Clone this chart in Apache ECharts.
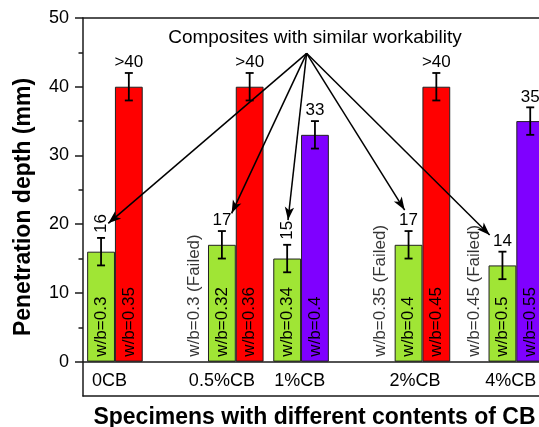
<!DOCTYPE html>
<html>
<head>
<meta charset="utf-8">
<script src="https://cdn.jsdelivr.net/npm/echarts@6/dist/echarts.min.js"></script>
<style>
  html, body { margin: 0; padding: 0; background: #fff; }
  #chart { width: 539px; height: 427px; }
</style>
</head>
<body>
<div id="chart"></div>
<script>
// ---------- data ----------
const categories = ['0CB', '0.5%CB', '1%CB', '2%CB', '4%CB'];
const categoryPos = [0.95, 5.0, 7.8, 11.95, 15.4];

const barPos = [0.65, 1.65, 5.0, 6.0, 7.35, 8.35, 11.72, 12.72, 15.1, 16.1];
const barMix = ['w/b=0.3', 'w/b=0.35', 'w/b=0.32', 'w/b=0.36', 'w/b=0.34', 'w/b=0.4', 'w/b=0.4', 'w/b=0.45', 'w/b=0.5', 'w/b=0.55'];
const barDepth = [16, 40, 17, 40, 15, 33, 17, 40, 14, 35];
const barError = [2, 2, 2, 2, 2, 2, 2, 2, 2, 2];
const barDepthText = ['16', '>40', '17', '>40', '15', '33', '17', '>40', '14', '35'];
const barGroup = ['similar', 'over', 'similar', 'over', 'similar', 'measured', 'similar', 'over', 'similar', 'measured'];

const failedPos = [4.0, 10.72, 14.1];
const failedMix = ['w/b=0.3 (Failed)', 'w/b=0.35 (Failed)', 'w/b=0.45 (Failed)'];

const noteText = 'Composites with similar workability';
const noteCenter = [8.35, 47.1];
const noteSource = [8.05, 44.86];
const noteTargets = [[0.91, 20.12], [5.35, 21.58], [7.38, 20.6], [11.58, 22.06], [14.64, 18.42]];

const yMajorTicks = [0, 10, 20, 30, 40, 50];
const yMinorTicks = [5, 15, 25, 35, 45];

const xTitle = 'Specimens with different contents of CB';
const yTitle = 'Penetration depth (mm)';

// ---------- styles ----------
const FONT = "'Liberation Sans', Arial, Helvetica, sans-serif";
const groupColor = { similar: '#A0E535', over: '#FF0000', measured: '#7F00FF' };
const rotatedValueLabels = new Set([0, 4]);

const chart = echarts.init(document.getElementById('chart'), null, { renderer: 'canvas' });

const barData = barPos.map((x, i) => ({
  value: [x, barDepth[i]],
  itemStyle: { color: groupColor[barGroup[i]] }
}));
const errData = barPos.map((x, i) => [x, barDepth[i], barError[i]]);
const failedData = failedPos.map((x, i) => ({ value: [x, 0], name: failedMix[i] }));

const axisLineStyle = { color: '#1a1a1a', width: 1.5 };

const option = {
  animation: false,
  backgroundColor: '#fff',
  grid: { left: 83, right: -44, top: 18, bottom: 31, containLabel: false, outerBoundsMode: 'none' },
  xAxis: [
    {
      type: 'value', min: 0, max: 18, position: 'bottom',
      axisLine: { show: true, onZero: false, lineStyle: axisLineStyle },
      axisTick: { show: false },
      splitLine: { show: false },
      axisLabel: {
        inside: true,
        customValues: categoryPos,
        formatter: function (v) {
          let best = 0, d = Infinity;
          categoryPos.forEach((p, i) => { if (Math.abs(p - v) < d) { d = Math.abs(p - v); best = i; } });
          return categories[best];
        },
        fontFamily: FONT, fontSize: 18, color: '#000', margin: 6
      }
    },
    {
      type: 'value', min: 0, max: 18, position: 'top',
      axisLine: { show: true, onZero: false, lineStyle: axisLineStyle },
      axisTick: { show: false }, axisLabel: { show: false }, splitLine: { show: false }
    }
  ],
  yAxis: [
    {
      type: 'value', min: -5, max: 50, interval: 5, position: 'left',
      axisLine: { show: true, onZero: false, lineStyle: axisLineStyle },
      axisTick: { show: true, inside: false, length: 8, customValues: yMajorTicks, lineStyle: axisLineStyle },
      axisLabel: { customValues: yMajorTicks, fontFamily: FONT, fontSize: 18, color: '#000', margin: 14 },
      splitLine: { show: false }
    },
    {
      type: 'value', min: -5, max: 50, interval: 5, position: 'left',
      axisLine: { show: false, onZero: false },
      axisTick: { show: true, inside: false, length: 4.5, customValues: yMinorTicks, lineStyle: axisLineStyle },
      axisLabel: { show: false },
      splitLine: { show: false }
    }
  ],
  series: [
    {
      type: 'bar',
      xAxisIndex: 0, yAxisIndex: 0,
      barWidth: 27.8,
      data: barData,
      itemStyle: { borderColor: '#222', borderWidth: 1 },
      label: {
        show: true,
        position: 'insideBottom',
        distance: 5,
        rotate: 90,
        align: 'left',
        verticalAlign: 'middle',
        formatter: (p) => barMix[p.dataIndex],
        fontFamily: FONT, fontSize: 17, color: '#000'
      },
      emphasis: { disabled: true },
      markLine: {
        silent: true,
        symbol: ['none', 'none'],
        label: { show: false },
        lineStyle: { color: '#1a1a1a', width: 1.5, type: 'solid' },
        emphasis: { disabled: true },
        data: [{ yAxis: 0 }]
      },
      z: 2
    },
    {
      type: 'custom',
      xAxisIndex: 0, yAxisIndex: 0,
      data: errData,
      z: 3,
      renderItem: function (params, api) {
        const i = params.dataIndex;
        const x = api.value(0), v = api.value(1), e = api.value(2);
        const top = api.coord([x, v + e]);
        const bot = api.coord([x, v - e]);
        const cw = 4;
        const ls = { stroke: '#000', lineWidth: 1.8 };
        const rot = rotatedValueLabels.has(i);
        return {
          type: 'group',
          children: [
            { type: 'line', shape: { x1: top[0], y1: top[1], x2: bot[0], y2: bot[1] }, style: ls },
            { type: 'line', shape: { x1: top[0] - cw, y1: top[1], x2: top[0] + cw, y2: top[1] }, style: ls },
            { type: 'line', shape: { x1: bot[0] - cw, y1: bot[1], x2: bot[0] + cw, y2: bot[1] }, style: ls },
            {
              type: 'text',
              x: top[0], y: top[1] - (rot ? 5 : 2),
              rotation: rot ? Math.PI / 2 : 0,
              style: {
                text: barDepthText[i], fill: '#000',
                font: '17px ' + FONT,
                align: rot ? 'left' : 'center',
                verticalAlign: rot ? 'middle' : 'bottom'
              }
            }
          ]
        };
      }
    },
    {
      type: 'scatter',
      xAxisIndex: 0, yAxisIndex: 0,
      data: failedData,
      symbolSize: 0,
      z: 4,
      label: {
        show: true,
        position: 'top',
        distance: 5,
        rotate: 90,
        align: 'left',
        verticalAlign: 'middle',
        formatter: (p) => p.name,
        fontFamily: FONT, fontSize: 17, color: '#000'
      },
      emphasis: { disabled: true },
      markLine: {
        silent: true,
        symbol: ['none', 'arrow'],
        symbolSize: [7, 13],
        label: { show: false },
        lineStyle: { color: '#000', width: 1.5, type: 'solid' },
        emphasis: { disabled: true },
        data: noteTargets.map(t => [{ coord: noteSource }, { coord: t }])
      },
      markPoint: {
        silent: true,
        symbol: 'circle',
        symbolSize: 1,
        itemStyle: { color: 'rgba(0,0,0,0)' },
        label: {
          show: true, position: 'inside',
          formatter: noteText,
          fontFamily: FONT, fontSize: 19, color: '#000'
        },
        data: [{ coord: noteCenter }]
      }
    }
  ],
  graphic: [
    {
      type: 'text', x: 314.5, y: 418,
      style: { text: xTitle, font: 'bold 23px ' + FONT, fill: '#000', align: 'center', verticalAlign: 'middle' }
    },
    {
      type: 'text', x: 24, y: 207, rotation: Math.PI / 2,
      style: { text: yTitle, font: 'bold 23px ' + FONT, fill: '#000', align: 'center', verticalAlign: 'middle' }
    }
  ]
};

chart.setOption(option);
</script>
</body>
</html>
